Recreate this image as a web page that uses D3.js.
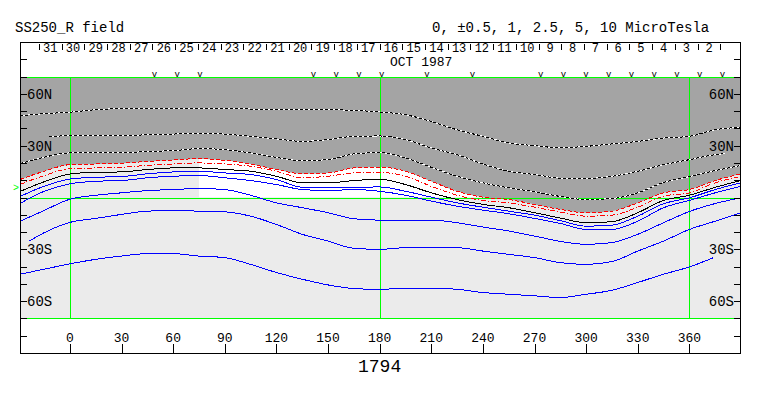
<!DOCTYPE html>
<html>
<head>
<meta charset="utf-8">
<script src="https://cdnjs.cloudflare.com/ajax/libs/d3/7.8.5/d3.min.js"></script>
<style>
  body { margin: 0; background: #fff; }
  text { font-family: "Liberation Mono", "DejaVu Sans Mono", monospace; fill: #000; }
</style>
</head>
<body>
<script>
// axis values
var lonTicks = [0, 30, 60, 90, 120, 150, 180, 210, 240, 270, 300, 330, 360];
var latTicks = [80, 70, 60, 50, 40, 30, 20, 10, 0, -10, -20, -30, -40, -50, -60, -70, -80];
var latLabelValues = [60, 30, -30, -60];
var latLabelNames = ["60N", "30N", "30S", "60S"];
var gridLons = [0, 180, 360];
var gridLats = [70, 0, -70];

// days of Oct 1987 along the top, and the carrington longitude of each day boundary
var dayNumbers = [31, 30, 29, 28, 27, 26, 25, 24, 23, 22, 21, 20, 19, 18, 17,
                  16, 15, 14, 13, 12, 11, 10, 9, 8, 7, 6, 5, 4, 3, 2];
var dayTickLons = [-18, -4.8, 8.4, 21.6, 34.8, 48, 61.2, 74.4, 87.6, 100.8, 114, 127.2, 140.4,
                   153.6, 166.8, 180, 193.2, 206.4, 219.6, 232.8, 246, 259.2, 272.4, 285.6,
                   298.8, 312, 325.2, 338.4, 351.6, 364.8, 378];
var obsDays = [26, 25, 24, 19, 18, 17, 16, 14, 12, 9, 8, 7, 6, 5, 4, 3, 2, 1];
var earthLat = 6.2;

// contours [longitude, latitude]
var pos10 = [[-29,47.3],[-15,48.5],[0,49.4],[15,50.8],[30,51.5],[45,51.7],[60,51.7],[75,51.7],[90,51.7],
  [105,51.2],[120,50.8],[135,50.8],[150,50.8],[165,50.4],[180,49.5],[195,47.9],[210,44.0],[225,39.2],
  [240,35.4],[255,31.6],[270,30.0],[285,28.8],[300,29.6],[315,31.0],[330,32.5],[345,34.4],[360,35.4],
  [375,39.2],[390,40.6]];
var pos5 = [[-12,35.2],[0,35.8],[15,35.9],[30,35.8],[45,36.3],[60,36.7],[75,37.3],[90,36.7],[105,35.4],
  [120,33.9],[135,32.5],[150,33.5],[165,35.4],[180,35.6],[195,33.5],[210,28.7],[225,24.8],[240,19.4],
  [255,15.2],[270,13.3],[285,11.2],[300,11.0],[315,12.3],[330,15.2],[345,19.0],[360,21.9],[375,24.8],
  [381,25.4]];
var pos25 = [[-29,19.6],[-15,23.3],[0,25.8],[15,25.8],[30,25.8],[45,26.7],[60,27.1],[75,28.3],[90,27.7],
  [105,25.8],[120,23.2],[135,21.3],[150,21.9],[165,25.2],[180,26.0],[195,22.9],[210,17.5],[225,12.3],
  [240,8.5],[255,5.6],[270,3.3],[285,0.6],[300,-1.2],[315,-0.6],[330,2.7],[345,8.7],[360,12.1],
  [375,15.6],[390,18.5]];
var pos1 = [[-29,10.4],[-15,15.2],[0,19.0],[15,19.4],[30,19.8],[45,20.9],[60,21.7],[75,22.5],[90,21.5],
  [105,19.4],[120,16.2],[135,13.8],[150,14.2],[165,17.1],[180,17.6],[195,15.2],[210,9.4],[225,3.6],
  [240,0.2],[255,-1.2],[270,-4.0],[285,-6.9],[300,-8.8],[315,-7.9],[330,-3.1],[345,2.7],[360,4.6],
  [375,9.8],[390,13.7]];
var pos05 = [[-29,7.5],[-15,12.7],[0,16.6],[15,17.1],[30,17.5],[45,18.6],[60,19.4],[75,20.0],[90,19.4],
  [105,18.1],[120,15.2],[135,11.4],[150,12.3],[165,14.2],[180,14.5],[195,12.3],[210,6.5],[225,1.3],
  [240,-1.7],[255,-3.1],[270,-5.6],[285,-8.4],[300,-10.8],[315,-10.2],[330,-5.6],[345,0.8],[360,2.7],
  [375,8.5],[390,12.3]];
var zero = [[-29,3.5],[-15,9.1],[0,13.6],[15,14.6],[30,14.8],[45,16.2],[60,17.1],[75,17.1],[90,16.2],
  [105,15.2],[120,12.3],[135,8.5],[150,8.5],[165,9.8],[180,10.6],[195,7.5],[210,2.7],[225,-1.2],
  [240,-4.0],[255,-5.9],[270,-8.8],[285,-11.9],[300,-14.6],[315,-14.0],[330,-8.8],[345,-1.7],[360,1.3],
  [375,5.9],[390,9.8]];
var neg05 = [[-29,0.6],[-15,6.5],[0,10.7],[15,11.7],[30,12.1],[45,13.7],[60,14.8],[75,15.2],[90,14.2],
  [105,13.3],[120,10.4],[135,5.9],[150,5.6],[165,5.9],[180,6.1],[195,3.6],[210,0.2],[225,-3.1],
  [240,-5.6],[255,-7.9],[270,-10.2],[285,-13.4],[300,-16.6],[315,-16.0],[330,-10.8],[345,-3.6],
  [360,-0.2],[375,4.6],[390,8.5]];
var neg1 = [[-29,-3.5],[-15,3.6],[0,7.9],[15,9.4],[30,9.8],[45,11.4],[60,12.3],[75,12.7],[90,11.4],
  [105,9.8],[120,7.5],[135,4.6],[150,4.0],[165,4.6],[180,3.6],[195,1.3],[210,-2.1],[225,-5.0],
  [240,-7.3],[255,-9.4],[270,-12.1],[285,-15.0],[300,-18.5],[315,-18.5],[330,-13.7],[345,-5.9],
  [360,-1.7],[375,2.7],[390,6.5]];
var neg25 = [[-29,-13.8],[-15,-7.5],[0,-1.0],[15,1.3],[30,2.7],[45,4.0],[60,4.6],[75,5.2],[90,4.6],
  [105,1.3],[120,-3.1],[135,-5.9],[150,-8.8],[165,-12.3],[180,-13.1],[195,-13.1],[210,-13.1],
  [225,-14.6],[240,-17.1],[255,-19.4],[270,-22.3],[285,-25.4],[300,-27.1],[315,-26.1],[330,-21.3],
  [345,-14.6],[360,-8.1],[375,-3.5],[390,-0.2]];
var neg5 = [[-24,-25.4],[-15,-20.4],[0,-14.4],[15,-12.1],[30,-9.8],[45,-7.9],[60,-7.5],[75,-7.9],
  [90,-8.3],[105,-10.8],[120,-15.6],[135,-21.3],[150,-25.2],[165,-29.4],[180,-30.0],[195,-29.0],
  [210,-28.7],[225,-29.0],[240,-31.0],[255,-32.9],[270,-34.8],[285,-37.7],[300,-38.7],[315,-37.1],
  [330,-31.0],[345,-25.2],[360,-18.5],[375,-13.7],[390,-8.8]];
var neg10 = [[-29,-44.4],[-15,-41.5],[0,-38.4],[15,-35.8],[30,-33.9],[45,-32.5],[60,-32.5],[75,-33.9],
  [90,-34.8],[105,-38.7],[120,-43.4],[135,-47.3],[150,-50.6],[165,-52.7],[180,-53.2],[195,-52.5],
  [210,-52.5],[225,-53.1],[240,-55.0],[255,-56.0],[270,-56.9],[285,-57.9],[300,-56.0],[315,-53.7],
  [330,-49.2],[345,-44.4],[360,-40.2],[374,-34.8]];

var w = 763, h = 396;
var x = d3.scaleLinear().domain([-29, 390]).range([20, 741]);
var y = d3.scaleLinear().domain([-90, 90]).range([353, 42]);
function px (v) { return Math.round(v) + 0.5; }

var svg = d3.select("body").append("svg")
  .attr("width", w)
  .attr("height", h);

var top70 = px(y(70)), bot70 = px(y(-70));

// background fills
svg.append("rect")
  .attr("x", 20).attr("y", top70)
  .attr("width", 721).attr("height", bot70 - top70)
  .attr("fill", "#ebebeb");

svg.append("clipPath").attr("id", "north")
  .append("rect")
  .attr("x", x(75)).attr("y", top70)
  .attr("width", 741 - x(75)).attr("height", y(0) - top70);

var bandData = pos1.filter(function (d) { return d[0] >= 75 && d[0] <= 255; });
svg.append("path")
  .datum(bandData)
  .attr("clip-path", "url(#north)")
  .attr("fill", "#fff")
  .attr("d", d3.area()
    .x(function (d) { return x(d[0]); })
    .y0(y(0))
    .y1(function (d) { return y(d[1]); })
    .curve(d3.curveMonotoneX));

svg.append("path")
  .datum(pos1)
  .attr("fill", "#a4a4a4")
  .attr("d", d3.area()
    .x(function (d) { return x(d[0]); })
    .y0(top70)
    .y1(function (d) { return y(d[1]); })
    .curve(d3.curveMonotoneX));

// green grid
var grid = svg.append("g")
  .attr("stroke", "#00ff00")
  .attr("shape-rendering", "crispEdges");
grid.selectAll("line.h").data(gridLats).enter().append("line")
  .attr("x1", 20).attr("x2", 741)
  .attr("y1", function (d) { return px(y(d)); })
  .attr("y2", function (d) { return px(y(d)); });
grid.selectAll("line.v").data(gridLons).enter().append("line")
  .attr("x1", function (d) { return px(x(d)); })
  .attr("x2", function (d) { return px(x(d)); })
  .attr("y1", top70).attr("y2", bot70);

// contours
var line = d3.line()
  .x(function (d) { return x(d[0]); })
  .y(function (d) { return y(d[1]); })
  .curve(d3.curveMonotoneX);

var contours = [
  { data: pos10, stroke: "#fff", dash: null },
  { data: pos10, stroke: "#000", dash: "3,2" },
  { data: pos5, stroke: "#fff", dash: null },
  { data: pos5, stroke: "#000", dash: "3,2" },
  { data: pos25, stroke: "#fff", dash: null },
  { data: pos25, stroke: "#000", dash: "3,2" },
  { data: pos1, stroke: "#ff0000", dash: "4,2" },
  { data: pos05, stroke: "#ff0000", dash: "5,2,1,2" },
  { data: zero, stroke: "#000", dash: null },
  { data: neg05, stroke: "#0000ff", dash: null },
  { data: neg1, stroke: "#0000ff", dash: null },
  { data: neg25, stroke: "#0000ff", dash: null },
  { data: neg5, stroke: "#0000ff", dash: null },
  { data: neg10, stroke: "#0000ff", dash: null }
];

svg.append("g").selectAll("path")
  .data(contours)
  .enter()
  .append("path")
  .attr("d", function (d) { return line(d.data); })
  .attr("fill", "none")
  .attr("stroke", function (d) { return d.stroke; })
  .attr("stroke-dasharray", function (d) { return d.dash; })
  .attr("stroke-width", 1)
  .attr("shape-rendering", "crispEdges");

// frame and ticks
var frame = svg.append("g")
  .attr("stroke", "#000")
  .attr("shape-rendering", "crispEdges");
frame.append("line").attr("x1", 20).attr("x2", 741).attr("y1", 42.5).attr("y2", 42.5);
frame.append("line").attr("x1", 20).attr("x2", 741).attr("y1", 353.5).attr("y2", 353.5);
frame.append("line").attr("x1", 20.5).attr("x2", 20.5).attr("y1", 42).attr("y2", 354);
frame.append("line").attr("x1", 740.5).attr("x2", 740.5).attr("y1", 42).attr("y2", 354);

frame.selectAll("line.lt").data(latTicks).enter().append("line")
  .attr("x1", 20).attr("x2", 27)
  .attr("y1", function (d) { return px(y(d)); })
  .attr("y2", function (d) { return px(y(d)); });
frame.selectAll("line.rt").data(latTicks).enter().append("line")
  .attr("x1", 734).attr("x2", 741)
  .attr("y1", function (d) { return px(y(d)); })
  .attr("y2", function (d) { return px(y(d)); });
frame.selectAll("line.bt").data(lonTicks).enter().append("line")
  .attr("x1", function (d) { return px(x(d)); })
  .attr("x2", function (d) { return px(x(d)); })
  .attr("y1", 344).attr("y2", 354);
frame.selectAll("line.dt").data(dayTickLons).enter().append("line")
  .attr("x1", function (d) { return px(x(d)); })
  .attr("x2", function (d) { return px(x(d)); })
  .attr("y1", 44).attr("y2", 50);

// labels
svg.selectAll("text.lonlab").data(lonTicks).enter().append("text")
  .attr("x", function (d) { return x(d); })
  .attr("y", 342)
  .attr("text-anchor", "middle")
  .attr("font-size", 13)
  .text(function (d) { return d; });

svg.selectAll("text.latl").data(latLabelValues).enter().append("text")
  .attr("x", 27)
  .attr("y", function (d) { return y(d) + 5; })
  .attr("font-size", 14)
  .text(function (d, i) { return latLabelNames[i]; });
svg.selectAll("text.latr").data(latLabelValues).enter().append("text")
  .attr("x", 734)
  .attr("y", function (d) { return y(d) + 5; })
  .attr("text-anchor", "end")
  .attr("font-size", 14)
  .text(function (d, i) { return latLabelNames[i]; });

svg.selectAll("text.day").data(dayNumbers).enter().append("text")
  .attr("x", function (d, i) { return (x(dayTickLons[i]) + x(dayTickLons[i + 1])) / 2; })
  .attr("y", 52)
  .attr("text-anchor", "middle")
  .attr("font-size", 12)
  .text(function (d) { return d; });

svg.selectAll("text.obs").data(obsDays).enter().append("text")
  .attr("x", function (d) { return x(dayTickLons[31 - d]) + 2; })
  .attr("y", 77)
  .attr("text-anchor", "middle")
  .attr("font-size", 9)
  .text("v");

svg.append("text")
  .attr("x", 13).attr("y", y(earthLat) + 4)
  .attr("font-size", 10)
  .style("fill", "#00ff00")
  .text(">");

svg.append("text").attr("x", 15).attr("y", 32).attr("font-size", 14).text("SS250_R field");
svg.append("text").attr("x", 432).attr("y", 32).attr("font-size", 14)
  .text("0, \u00b10.5, 1, 2.5, 5, 10 MicroTesla");
svg.append("text").attr("x", 390).attr("y", 66).attr("font-size", 13).text("OCT 1987");
svg.append("text").attr("x", x(180)).attr("y", 372).attr("text-anchor", "middle")
  .attr("font-size", 18).text("1794");
</script>
</body>
</html>
